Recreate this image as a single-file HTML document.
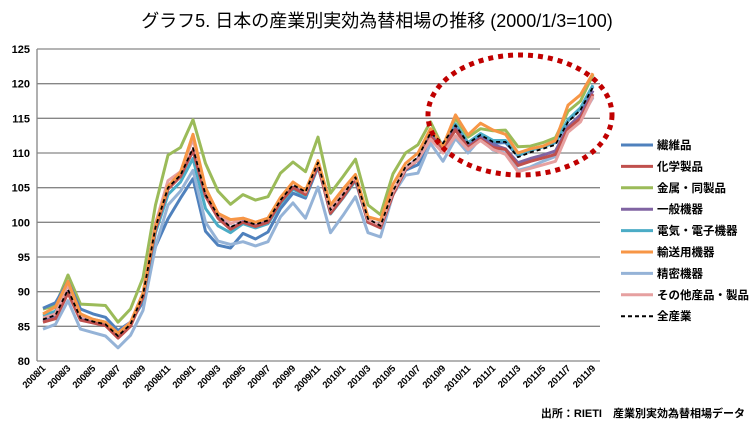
<!DOCTYPE html>
<html><head><meta charset="utf-8"><style>
body{margin:0;background:#fff;}
svg text{font-family:"Liberation Sans","Noto Sans CJK JP",sans-serif;}
</style></head><body>
<svg id="chart" width="754" height="430" xmlns="http://www.w3.org/2000/svg">
<text x="377" y="27" text-anchor="middle" font-size="18" fill="#000">グラフ5.  日本の産業別実効為替相場の推移 (2000/1/3=100)</text>
<g id="grid"></g><g id="series"></g><g id="legend"></g>
<ellipse cx="520" cy="115" rx="92" ry="60" fill="none" stroke="#C00000" stroke-width="5" stroke-dasharray="5,5"/>
<text x="745" y="417" text-anchor="end" font-size="11" font-weight="bold" fill="#000">出所：RIETI　産業別実効為替相場データ</text>
</svg>
<script>
const xLabels=["2008/1","2008/3","2008/5","2008/7","2008/9","2008/11","2009/1","2009/3","2009/5","2009/7","2009/9","2009/11","2010/1","2010/3","2010/5","2010/7","2010/9","2010/11","2011/1","2011/3","2011/5","2011/7","2011/9"];
const yTicks=[80,85,90,95,100,105,110,115,120,125];
const seriesNames=["繊維品","化学製品","金属・同製品","一般機器","電気・電子機器","輸送用機器","精密機器","その他産品・製品","全産業"];
const sTextile=[87.6,88.4,91.5,87.5,86.8,86.3,84.4,85.6,88.5,96.5,100.5,103.5,106.3,98.7,96.7,96.3,98.4,97.6,98.6,102.0,104.2,103.5,108.0,101.8,104.0,106.0,100.0,99.3,104.0,107.5,108.3,112.0,111.0,114.0,111.2,112.5,111.4,111.5,109.6,110.4,110.9,111.5,114.6,116.4,119.6];
const sChem=[85.6,86.1,89.8,85.9,85.5,85.1,83.3,85.0,89.2,99.0,104.8,106.6,110.4,103.8,100.6,99.0,100.0,99.4,100.0,102.9,105.0,104.0,108.2,101.3,103.6,106.2,100.0,99.2,104.0,107.6,109.0,112.3,110.6,113.3,110.8,112.0,110.8,110.5,108.2,108.8,109.3,109.8,113.5,115.0,118.5];
const sMetal=[87.5,88.0,92.4,88.2,88.1,88.0,85.6,87.5,92.0,102.5,109.7,110.8,114.8,108.5,104.5,102.6,104.0,103.2,103.7,107.1,108.7,107.3,112.3,104.2,106.6,109.1,102.5,101.1,107.0,110.0,111.2,114.5,110.8,115.0,112.3,113.5,113.2,113.3,110.9,111.0,111.5,112.2,116.0,117.5,121.3];
const sGeneral=[85.8,86.3,90.0,86.0,85.6,85.2,83.5,85.2,89.3,99.2,104.9,106.7,110.3,103.9,100.8,99.1,100.1,99.5,100.1,103.0,105.1,104.1,108.3,101.5,103.8,106.3,100.3,99.4,104.3,107.8,109.2,112.6,111.0,113.6,111.0,112.2,111.2,110.6,108.6,109.2,109.7,110.3,113.8,115.5,119.0];
const sElec=[86.5,87.2,91.0,86.7,86.0,85.6,84.0,85.3,89.0,98.5,104.0,105.8,109.2,102.0,99.5,98.5,99.8,99.2,99.8,102.7,104.8,103.8,108.3,101.2,103.5,106.0,100.2,99.3,104.2,107.8,109.2,112.7,111.3,114.2,111.5,112.8,111.8,111.8,109.7,110.4,110.9,111.5,114.8,116.5,119.8];
const sTransport=[86.8,87.8,91.5,86.8,86.0,85.6,84.0,85.5,89.8,99.5,105.2,107.2,112.7,105.0,101.3,100.4,100.6,100.0,100.6,103.6,105.8,104.6,108.9,102.5,104.8,106.9,100.8,100.3,105.5,108.5,110.0,113.5,111.0,115.5,112.6,114.3,113.3,112.7,110.0,110.6,111.0,111.8,116.9,118.4,121.5];
const sPrecision=[84.6,85.3,88.7,84.6,84.1,83.6,81.9,83.7,87.3,96.5,102.5,104.5,107.5,100.0,97.3,96.8,97.2,96.6,97.2,100.8,102.8,100.6,105.1,98.5,101.0,103.7,98.5,97.9,104.0,106.8,107.1,111.4,108.8,112.1,110.0,112.1,110.4,110.0,107.5,108.0,108.8,109.5,113.2,115.0,118.0];
const sOther=[86.2,86.8,91.0,86.5,86.0,85.6,84.0,85.6,89.8,99.8,106.0,107.3,112.0,104.8,101.3,99.8,100.6,100.0,100.6,103.5,105.8,104.4,108.8,101.8,104.2,106.6,100.4,99.6,104.4,107.8,109.0,112.0,110.0,112.5,110.5,111.8,110.5,109.8,107.3,107.8,108.3,108.8,113.0,114.5,118.2];
const sAll=[86.0,86.6,90.3,86.2,85.7,85.3,83.6,85.3,89.5,99.3,105.0,106.8,110.7,104.0,101.0,99.3,100.2,99.7,100.3,103.2,105.4,104.4,108.6,101.8,104.0,106.5,100.5,99.5,104.5,108.0,109.4,112.9,111.4,114.0,111.4,112.6,111.6,111.6,109.4,110.1,110.6,111.2,114.5,116.2,119.5];

const NS="http://www.w3.org/2000/svg";
const L=37,R=600,T=49,B=361,X0=43,DX=12.5,YMIN=80,YMAX=125;
const xs=i=>X0+i*DX;
const ys=v=>B-(v-YMIN)/(YMAX-YMIN)*(B-T);
function mk(t,a){const e=document.createElementNS(NS,t);for(const k in a)e.setAttribute(k,a[k]);return e;}
const grid=document.getElementById('grid');
yTicks.forEach(v=>{
  const ln=mk('line',{x1:L,x2:R,y1:ys(v),y2:ys(v),stroke:'#868686','stroke-width':1.3});
  
  
  grid.appendChild(ln);
  const t=mk('text',{x:30,y:ys(v)+4,'text-anchor':'end','font-size':11,'font-weight':'bold',fill:'#000'});
  t.textContent=v;
  
  
  grid.appendChild(t);
});
const ax=mk('line',{x1:L,x2:L,y1:T,y2:B,stroke:'#868686','stroke-width':1.3});


grid.appendChild(ax);
xLabels.forEach((lab,j)=>{
  const x=xs(j*2)+3,y=369;
  const t=mk('text',{x:x,y:y,'text-anchor':'end','font-size':9.5,'font-weight':'bold',fill:'#000','letter-spacing':'-0.2',transform:`rotate(-45 ${x} ${y})`});
  t.textContent=lab;
  
  
  grid.appendChild(t);
});
const data=[sTextile,sChem,sMetal,sGeneral,sElec,sTransport,sPrecision,sOther,sAll];
const colors=["#4F81BD","#C0504D","#9BBB59","#8064A2","#4BACC6","#F79646","#95B3D7","#E6A0A0","#000"];
const order=[2,0,6,4,3,1,7,5,8];
const sg=document.getElementById('series');
order.forEach(k=>{
  const d=data[k].map((v,i)=>(i?'L':'M')+xs(i).toFixed(1)+','+ys(v).toFixed(1)).join('');
  const p=mk('path',{d:d,fill:'none',stroke:colors[k],'stroke-width':k==8?1.8:3,'stroke-linejoin':'round'});
  if(k==8)p.setAttribute('stroke-dasharray','4,3');
  
  
  sg.appendChild(p);
});
const lg=document.getElementById('legend');
seriesNames.forEach((n,k)=>{
  const y=145+k*21.4;
  const l=mk('line',{x1:621,x2:653,y1:y,y2:y,stroke:colors[k],'stroke-width':k==8?2:3});
  if(k==8)l.setAttribute('stroke-dasharray','4,3');
  
  
  lg.appendChild(l);
  const t=mk('text',{x:657,y:y+4,'font-size':11.5,'font-weight':'bold',fill:'#000'});
  t.textContent=n;
  
  
  lg.appendChild(t);
});
</script>
</body></html>
